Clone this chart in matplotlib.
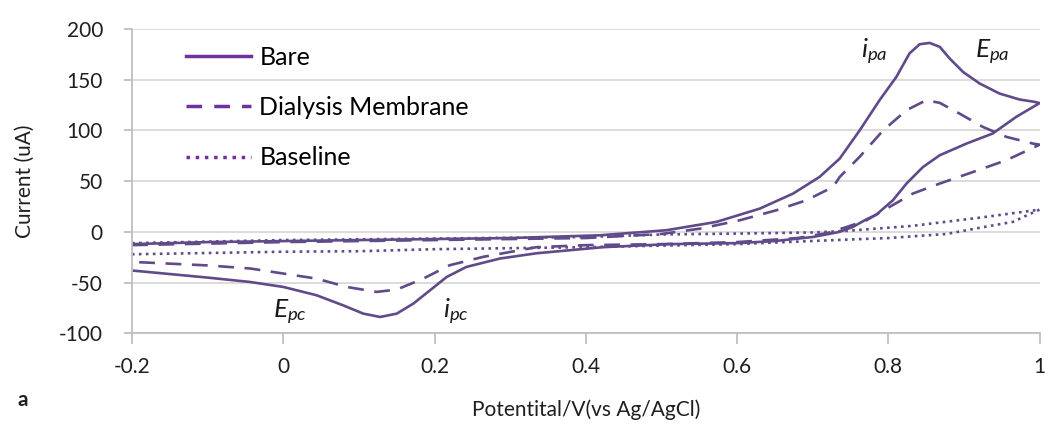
import numpy as np
import matplotlib.pyplot as plt
from matplotlib.lines import Line2D

plt.rcParams['font.family'] = ['Lato', 'DejaVu Sans']
plt.rcParams['mathtext.fontset'] = 'custom'
plt.rcParams['mathtext.rm'] = 'Lato'
plt.rcParams['mathtext.it'] = 'Lato:italic'
plt.rcParams['axes.unicode_minus'] = False

# cyclic voltammograms (forward scan then reverse scan)
bare_v = [-0.2, -0.1, 0.0, 0.1, 0.2, 0.3, 0.4185, 0.5066, 0.5727, 0.63, 0.674, 0.709,
          0.7357, 0.762, 0.7885, 0.8106, 0.828, 0.8414, 0.8546, 0.868, 0.881, 0.8987, 0.9207,
          0.947, 0.9736, 0.9934, 1.0,
          0.969, 0.938, 0.903, 0.868, 0.8458, 0.824, 0.806, 0.784, 0.77, 0.753, 0.735, 0.70,
          0.65, 0.6, 0.511, 0.423, 0.335, 0.2865, 0.242, 0.216, 0.194, 0.172, 0.15, 0.128,
          0.1057, 0.079, 0.044, 0.0, -0.044, -0.1, -0.2]
bare_i = [-12, -10, -9, -8, -7, -6, -3.3, 1.7, 9.9, 23, 37.8, 54.2,
          72.3, 100, 130, 152.8, 176, 185, 186.3, 182.4, 171, 157.7, 146.3,
          136.4, 130.5, 128.2, 127,
          113.4, 97, 87, 75.6, 64, 47.7, 31.2, 17, 12, 4.9, 0, -5,
          -9, -11, -12, -15, -21, -26.2, -34.5, -44.4, -57.5, -70.6, -80.5, -83.8,
          -80.5, -72.3, -62.4, -54.2, -49.3, -45, -38]

dialysis_v = [-0.2, 0.0, 0.2, 0.4, 0.5, 0.5515, 0.6036, 0.652, 0.6916, 0.727, 0.7357, 0.762,
              0.793, 0.824, 0.850, 0.868, 0.894, 0.925, 0.956, 0.991, 1.0,
              0.956, 0.912, 0.868, 0.8326, 0.8017, 0.771, 0.745, 0.72, 0.68, 0.6, 0.5, 0.4,
              0.335, 0.264, 0.22, 0.185, 0.15, 0.1234, 0.0837, 0.044, 0.0, -0.044, -0.1, -0.2]
dialysis_i = [-13, -10, -8, -6, -2, 3.3, 11.5, 21.4, 31.2, 44.4, 54.2, 74,
              100, 120, 129.8, 127.2, 116.7, 103.5, 93.7, 87.1, 86,
              70.7, 59.1, 47.7, 37.9, 24.7, 11.5, 4.9, -1, -6, -10, -12, -13,
              -15, -24.6, -32.8, -46, -56.8, -59.1, -54.2, -46, -41, -36, -33, -29.5]

baseline_v = [-0.2, 0.0, 0.2, 0.4, 0.5, 0.6, 0.7, 0.744, 0.832, 0.92, 0.96, 1.0,
              0.982, 0.965, 0.92, 0.877, 0.8, 0.73, 0.6, 0.4, 0.2, 0.1, 0.0, -0.2]
baseline_i = [-11, -8, -6.5, -5, -2.5, -1.6, -0.5, 1, 6, 14, 18, 22,
              16, 10, 4, -2, -6, -8, -12, -15, -17, -19, -19.5, -22]

x_ticks = [-0.2, 0, 0.2, 0.4, 0.6, 0.8, 1]
y_ticks = [-100, -50, 0, 50, 100, 150, 200]

line_col = '#604a8a'
leg_col = '#7030a0'
axis_col = '#bfbfbf'
text_col = '#1f1f1f'

fig = plt.figure(figsize=(10.48, 4.33), dpi=100)
ax = fig.add_axes([0.126, 0.23, 0.866, 0.703])

ax.plot(bare_v, bare_i, color=line_col, lw=1.9, solid_joinstyle='round')
ax.plot(dialysis_v, dialysis_i, color=line_col, lw=1.9, dashes=(6, 4))
ax.plot(baseline_v, baseline_i, color=line_col, lw=1.9, linestyle=':')

ax.set_xlim(-0.2, 1.0)
ax.set_ylim(-100, 200)
ax.set_xticks(x_ticks)
ax.set_xticklabels(['%g' % t for t in x_ticks])
ax.set_yticks(y_ticks)
ax.yaxis.grid(True, color='#d9d9d9', lw=1.3)
ax.set_axisbelow(True)
for s in ['top', 'right']:
    ax.spines[s].set_visible(False)
for s in ['left', 'bottom']:
    ax.spines[s].set_color(axis_col)
    ax.spines[s].set_linewidth(1.3)
ax.tick_params(axis='x', length=8, width=1.3, color=axis_col, pad=9, labelsize=15, labelcolor=text_col)
ax.tick_params(axis='y', length=6, width=1.3, color=axis_col, pad=15, labelsize=15, labelcolor=text_col)

ax.set_xlabel('Potentital/V(vs Ag/AgCl)', fontsize=15, color=text_col, labelpad=16)
ax.set_ylabel('Current (uA)', fontsize=15, color=text_col)
ax.yaxis.set_label_coords(-0.107, 0.5)
fig.text(0.017, 0.062, 'a', fontsize=15, fontweight='bold', color=text_col)

ann = dict(fontsize=19, color='#1a1a1a', ha='center', va='center')
ax.text(0.782, 177, r'$i_{pa}$', **ann)
ax.text(0.938, 177, r'$E_{pa}$', **ann)
ax.text(0.009, -79, r'$E_{pc}$', **ann)
ax.text(0.228, -79, r'$i_{pc}$', **ann)

handles = [Line2D([], [], color=leg_col, lw=2.5),
           Line2D([], [], color=leg_col, lw=2.5, dashes=(4.5, 3.5)),
           Line2D([], [], color=leg_col, lw=2.5, linestyle=':')]
ax.legend(handles, ['Bare', 'Dialysis Membrane', 'Baseline'], loc='upper left',
          bbox_to_anchor=(0.037, 1.01), frameon=False, fontsize=18,
          handlelength=2.6, handletextpad=0.35, labelspacing=1.09, borderpad=0.3)

fig.savefig('out.png', dpi=100)
